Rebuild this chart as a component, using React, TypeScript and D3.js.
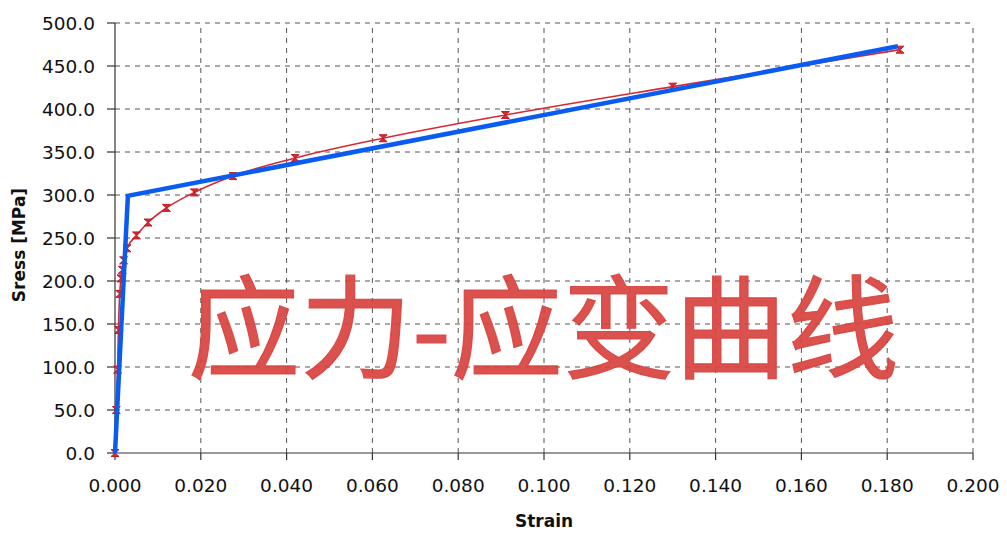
import React from "react";
import * as d3 from "d3";

// measured curve (red, with markers)
const testStrain = [0, 0.0003, 0.0006, 0.0008, 0.0011, 0.0014, 0.0017, 0.002, 0.0028, 0.005, 0.0077, 0.012, 0.0185, 0.0275, 0.042, 0.0625, 0.091, 0.13, 0.183];
const testStress = [0, 50, 97, 143, 185, 203, 213, 224, 238, 253, 268, 285, 303, 322, 343, 366, 393, 426, 469];

// bilinear model (blue)
const modelStrain = [0, 0.003, 0.1825];
const modelStress = [0, 299, 473];

const xTicks = [0, 0.02, 0.04, 0.06, 0.08, 0.1, 0.12, 0.14, 0.16, 0.18, 0.2];
const yTicks = [0, 50, 100, 150, 200, 250, 300, 350, 400, 450, 500];

const title = "应力-应变曲线";
const xLabel = "Strain";
const yLabel = "Sress [MPa]";

const W = 1007;
const H = 535;
const margin = { top: 23, right: 34, bottom: 82, left: 115 };

export default function App() {
  const x = d3.scaleLinear().domain([0, 0.2]).range([margin.left, W - margin.right]);
  const y = d3.scaleLinear().domain([0, 500]).range([H - margin.bottom, margin.top]);

  const test = testStrain.map((s, i) => ({ s, v: testStress[i] }));
  const model = modelStrain.map((s, i) => ({ s, v: modelStress[i] }));

  const line = d3.line<{ s: number; v: number }>()
    .x(d => x(d.s))
    .y(d => y(d.v));

  const smooth = d3.line<{ s: number; v: number }>()
    .x(d => x(d.s))
    .y(d => y(d.v))
    .curve(d3.curveMonotoneX);

  const fmtX = d3.format(".3f");
  const fmtY = d3.format(".1f");
  const font = "'DejaVu Sans', sans-serif";
  const axisColor = "#333";
  const gridColor = "#555";

  return (
    <svg width={W} height={H} style={{ position: "absolute", left: 0, top: 0, background: "#fff" }}>
      {/* grid */}
      <g stroke={gridColor} strokeWidth={1} strokeDasharray="5,5">
        {yTicks.filter(t => t > 0).map(t => (
          <line key={"gy" + t} x1={x(0)} x2={x(0.2)} y1={y(t)} y2={y(t)} />
        ))}
        {xTicks.filter(t => t > 0).map(t => (
          <line key={"gx" + t} x1={x(t)} x2={x(t)} y1={y(0)} y2={y(500)} />
        ))}
      </g>

      {/* watermark title */}
      <text
        x={188}
        y={370}
        fontFamily="'Noto Sans CJK SC', sans-serif"
        fontSize={112}
        fill="#d8423f"
        fillOpacity={0.92}
        stroke="#d8423f"
        strokeWidth={1.2}
        strokeOpacity={0.9}
      >
        {title}
      </text>

      {/* axes */}
      <g stroke={axisColor} strokeWidth={1.2}>
        <line x1={x(0)} x2={x(0)} y1={y(0)} y2={y(500)} />
        <line x1={x(0)} x2={x(0.2)} y1={y(0)} y2={y(0)} />
        {yTicks.map(t => (
          <line key={"ty" + t} x1={x(0) - 8} x2={x(0)} y1={y(t)} y2={y(t)} />
        ))}
        {xTicks.map(t => (
          <line key={"tx" + t} x1={x(t)} x2={x(t)} y1={y(0)} y2={y(0) + 7} />
        ))}
      </g>

      <g fontFamily={font} fontSize={18.5} fill="#111">
        {yTicks.map(t => (
          <text key={"ly" + t} x={x(0) - 20} y={y(t)} dy="0.36em" textAnchor="end">
            {fmtY(t)}
          </text>
        ))}
        {xTicks.map(t => (
          <text key={"lx" + t} x={x(t)} y={492} textAnchor="middle">
            {fmtX(t)}
          </text>
        ))}
      </g>

      <text x={x(0.1)} y={527} textAnchor="middle" fontFamily={font} fontSize={17} fontWeight="bold" fill="#111">
        {xLabel}
      </text>
      <text
        transform={`translate(25,245) rotate(-90)`}
        textAnchor="middle"
        fontFamily={font}
        fontSize={17}
        fontWeight="bold"
        fill="#111"
      >
        {yLabel}
      </text>

      {/* measured curve */}
      <path d={smooth(test) || ""} fill="none" stroke="#d42a30" strokeWidth={1.6} />
      {test.map((d, i) => (
        <path
          key={"m" + i}
          transform={`translate(${x(d.s)},${y(d.v)})`}
          d="M-4,-3.5L4,-3.5L-4,3.5L4,3.5Z"
          fill="#d42a30"
          stroke="#c01f28"
          strokeWidth={1}
        />
      ))}

      {/* model line */}
      <path
        d={line(model) || ""}
        fill="none"
        stroke="#0a5cf0"
        strokeWidth={4.5}
        strokeLinejoin="miter"
      />
    </svg>
  );
}
